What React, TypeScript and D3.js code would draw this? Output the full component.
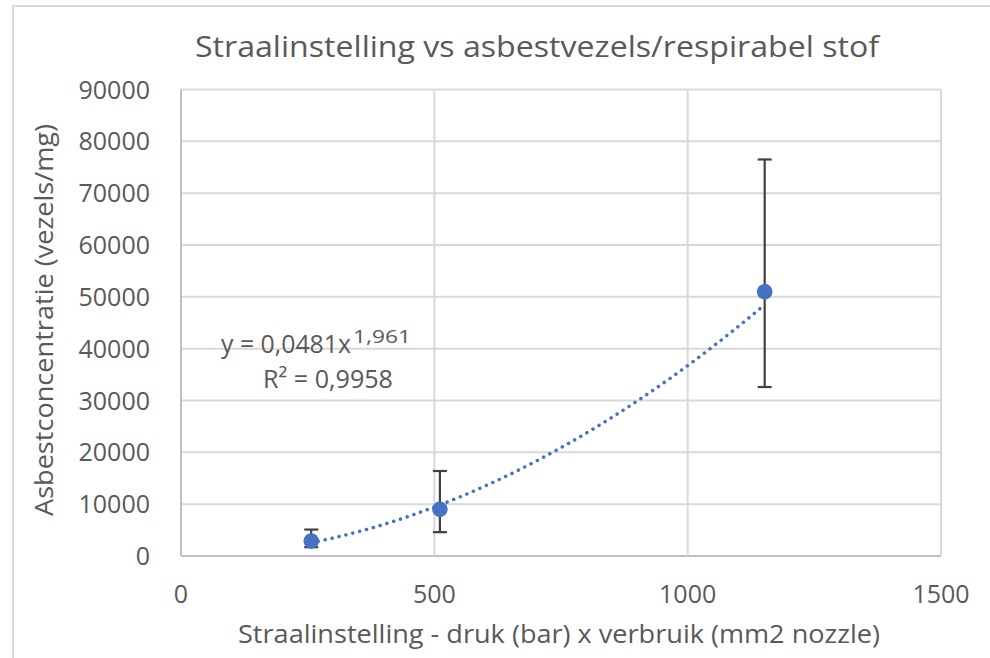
import React from "react";
import * as d3 from "d3";

const xValues = [257, 511, 1152];
const yValues = [2900, 9000, 51000];
const errUpper = [5100, 16400, 76500];
const errLower = [1700, 4600, 32600];
const xTicks = [0, 500, 1000, 1500];
const yTicks = [0, 10000, 20000, 30000, 40000, 50000, 60000, 70000, 80000, 90000];
const trendCoef = 0.0481;
const trendExp = 1.961;

const W = 990;
const H = 658;
const FONT = "'Open Sans', 'Noto Sans', sans-serif";
const TXT = "#595959";
const BLUE = "#4472c4";

export default function App() {
  const x = d3.scaleLinear().domain([0, 1500]).range([181, 941]);
  const y = d3.scaleLinear().domain([0, 90000]).range([556, 89.5]);

  const xMin = d3.min(xValues) as number;
  const xMax = d3.max(xValues) as number;
  const trendX = d3.range(0, 101).map((i) => xMin + ((xMax - xMin) * i) / 100);
  const line = d3
    .line<number>()
    .x((v) => x(v))
    .y((v) => y(trendCoef * Math.pow(v, trendExp)))
    .curve(d3.curveLinear);

  return (
    <svg
      width={W}
      height={H}
      style={{ position: "absolute", left: 0, top: 0, background: "#fff" }}
      fontFamily={FONT}
    >
      <rect x={13} y={6} width={W} height={H} fill="#fff" stroke="#d9d9d9" strokeWidth={2} />
      <text x={537} y={57} textAnchor="middle" fontSize={29} fill={TXT} textLength={684} lengthAdjust="spacingAndGlyphs">
        Straalinstelling vs asbestvezels/respirabel stof
      </text>

      {/* horizontal gridlines */}
      {yTicks.map((t) => (
        <line key={"gy" + t} x1={x(0)} x2={x(1500)} y1={y(t)} y2={y(t)} stroke={t === 0 ? "#bfbfbf" : "#d9d9d9"} strokeWidth={2} />
      ))}
      {/* vertical gridlines */}
      {xTicks.map((t) => (
        <line key={"gx" + t} x1={x(t)} x2={x(t)} y1={y(0)} y2={y(90000)} stroke={t === 0 ? "#bfbfbf" : "#d9d9d9"} strokeWidth={2} />
      ))}

      {/* y tick labels */}
      {yTicks.map((t) => (
        <text key={"ty" + t} x={150} y={y(t)} dy="0.36em" textAnchor="end" fontSize={25} fill={TXT}>
          {t}
        </text>
      ))}
      {/* x tick labels */}
      {xTicks.map((t) => (
        <text key={"tx" + t} x={x(t)} y={603} textAnchor="middle" fontSize={25} fill={TXT}>
          {t}
        </text>
      ))}

      {/* axis titles */}
      <text x={559} y={643} textAnchor="middle" fontSize={25} fill={TXT} textLength={642} lengthAdjust="spacingAndGlyphs">
        Straalinstelling - druk (bar) x verbruik (mm2 nozzle)
      </text>
      <text
        transform={`translate(53, 320) rotate(-90)`}
        textAnchor="middle"
        fontSize={25}
        fill={TXT}
        textLength={392}
        lengthAdjust="spacingAndGlyphs"
      >
        Asbestconcentratie (vezels/mg)
      </text>

      {/* trendline */}
      <path
        d={line(trendX) || ""}
        fill="none"
        stroke={BLUE}
        strokeWidth={3.5}
        strokeLinecap="round"
        strokeDasharray="0.1 7"
      />

      {/* error bars */}
      {xValues.map((xv, i) => (
        <g key={"e" + i} stroke="#404040" strokeWidth={2.2}>
          <line x1={x(xv)} x2={x(xv)} y1={y(errLower[i])} y2={y(errUpper[i])} />
          <line x1={x(xv) - 7} x2={x(xv) + 7} y1={y(errLower[i])} y2={y(errLower[i])} />
          <line x1={x(xv) - 7} x2={x(xv) + 7} y1={y(errUpper[i])} y2={y(errUpper[i])} />
        </g>
      ))}

      {/* markers */}
      {xValues.map((xv, i) => (
        <circle key={"p" + i} cx={x(xv)} cy={y(yValues[i])} r={7.8} fill={BLUE} />
      ))}

      {/* equation */}
      <text x={221} y={353} fontSize={26} fill={TXT} textLength={130} lengthAdjust="spacingAndGlyphs">
        y = 0,0481x
      </text>
      <text x={353} y={343} fontSize={18} fill={TXT} textLength={58} lengthAdjust="spacingAndGlyphs">
        1,961
      </text>
      <text x={263} y={388} fontSize={25} fill={TXT} textLength={130} lengthAdjust="spacingAndGlyphs">
        R² = 0,9958
      </text>
    </svg>
  );
}
